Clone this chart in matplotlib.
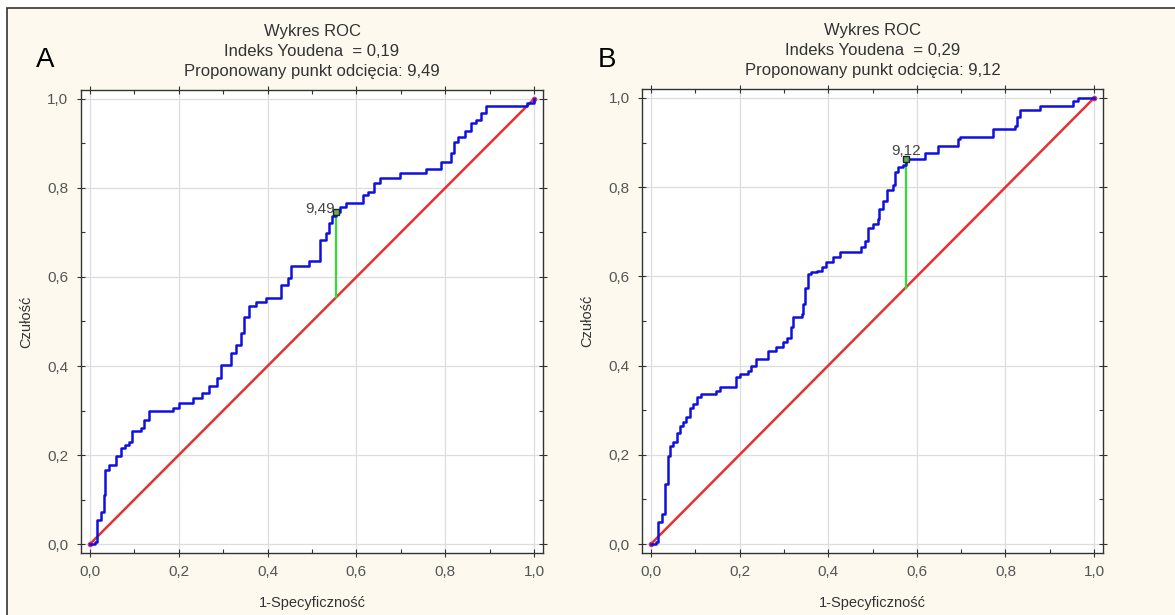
import matplotlib.pyplot as plt
from matplotlib.ticker import MultipleLocator, FuncFormatter
from matplotlib.patches import Rectangle

plt.rcParams['font.family'] = ['Liberation Sans', 'DejaVu Sans']

# ROC curve A: (1-specificity, sensitivity) where each new level starts
fpr_a = [0, 0.012, 0.015, 0.024, 0.032, 0.035, 0.043, 0.058, 0.069, 0.08, 0.088, 0.095,
         0.114, 0.122, 0.133, 0.186, 0.2, 0.231, 0.253, 0.268, 0.287, 0.295, 0.317,
         0.329, 0.34, 0.347, 0.359, 0.374, 0.396, 0.43, 0.445, 0.453, 0.494, 0.517,
         0.532, 0.539, 0.546, 0.554, 0.562, 0.577, 0.614, 0.625, 0.64, 0.654, 0.697,
         0.757, 0.791, 0.813, 0.82, 0.829, 0.844, 0.859, 0.87, 0.881, 0.892, 0.985, 1.0]
tpr_a = [0, 0.005, 0.055, 0.073, 0.11, 0.167, 0.178, 0.197, 0.216, 0.223, 0.23, 0.253,
         0.26, 0.279, 0.3, 0.305, 0.317, 0.328, 0.339, 0.356, 0.374, 0.403, 0.429,
         0.448, 0.474, 0.511, 0.534, 0.543, 0.552, 0.582, 0.598, 0.624, 0.636, 0.683,
         0.698, 0.721, 0.736, 0.747, 0.757, 0.766, 0.784, 0.792, 0.81, 0.822, 0.833,
         0.842, 0.859, 0.878, 0.904, 0.915, 0.927, 0.945, 0.953, 0.968, 0.983, 0.99, 1.0]
cut_a = (0.554, 0.747)
thr_a = '9,49'

# ROC curve B
fpr_b = [0, 0.012, 0.017, 0.024, 0.032, 0.039, 0.043, 0.05, 0.058, 0.065, 0.073, 0.08,
         0.088, 0.095, 0.103, 0.114, 0.148, 0.156, 0.193, 0.2, 0.22, 0.227, 0.238,
         0.265, 0.283, 0.298, 0.306, 0.317, 0.321, 0.34, 0.344, 0.348, 0.355, 0.362,
         0.374, 0.385, 0.396, 0.411, 0.426, 0.475, 0.483, 0.49, 0.5, 0.513, 0.515,
         0.524, 0.532, 0.547, 0.55, 0.558, 0.569, 0.575, 0.618, 0.648, 0.693, 0.697,
         0.772, 0.821, 0.825, 0.832, 0.877, 0.953, 0.964, 1.0]
tpr_b = [0, 0.005, 0.049, 0.067, 0.135, 0.198, 0.22, 0.228, 0.25, 0.265, 0.273, 0.284,
         0.306, 0.314, 0.329, 0.336, 0.344, 0.351, 0.374, 0.381, 0.389, 0.4, 0.415,
         0.433, 0.441, 0.452, 0.463, 0.486, 0.508, 0.516, 0.538, 0.575, 0.605, 0.609,
         0.613, 0.62, 0.632, 0.643, 0.654, 0.665, 0.68, 0.708, 0.717, 0.729, 0.751,
         0.77, 0.794, 0.804, 0.834, 0.845, 0.849, 0.862, 0.876, 0.892, 0.907, 0.913,
         0.93, 0.938, 0.957, 0.972, 0.983, 0.993, 1.0, 1.0]
cut_b = (0.575, 0.862)
thr_b = '9,12'

ticks = [0, 0.2, 0.4, 0.6, 0.8, 1.0]
tick_color = '#555555'
comma = FuncFormatter(lambda v, p: f'{v:.1f}'.replace('.', ','))

fig = plt.figure(figsize=(11.75, 6.15), dpi=100)
fig.patch.set_facecolor('white')
# cream panel with a dark frame on the top and left
fig.patches.append(Rectangle((7 / 1175, -0.1), 1.2, (615 - 8) / 615 + 0.1,
                             transform=fig.transFigure, facecolor='#fdf9ee',
                             edgecolor='#333333', linewidth=1.2, zorder=-10))


def draw_panel(rect, fpr, tpr, cut, thr, letter, label_offset):
    ax = fig.add_axes(rect)
    ax.set_facecolor('white')
    ax.set_xlim(-0.02, 1.02)
    ax.set_ylim(-0.02, 1.02)
    ax.set_xticks(ticks)
    ax.set_yticks(ticks)
    ax.xaxis.set_minor_locator(MultipleLocator(0.1))
    ax.yaxis.set_minor_locator(MultipleLocator(0.1))
    ax.xaxis.set_major_formatter(comma)
    ax.yaxis.set_major_formatter(comma)
    ax.tick_params(which='major', direction='inout', length=6, width=0.8,
                   top=True, right=True, colors='#333333', labelcolor=tick_color,
                   labelsize=11, pad=6)
    ax.tick_params(which='minor', direction='in', length=3, width=0.8,
                   top=True, right=True, colors='#333333')
    ax.grid(True, which='major', color='#dddddd', linewidth=0.9)
    ax.set_axisbelow(True)
    for s in ax.spines.values():
        s.set_color('#333333')
        s.set_linewidth(1.0)

    ax.plot([0, 1], [0, 1], color='#e8302f', linewidth=1.8, zorder=3)
    ax.plot([0, 1], [0, 1], linestyle='none', marker='o', markersize=3,
            color='#d0306a', zorder=4)
    ax.step(fpr, tpr, where='post', color='#1010dd', linewidth=1.8, zorder=5)
    ax.plot([cut[0], cut[0]], [cut[0], cut[1]], color='#33dd33', linewidth=1.6, zorder=4)
    ax.plot(cut[0], cut[1], marker='s', markersize=5, mfc='#66aa66',
            mec='#1a2a1a', mew=1.0, zorder=6)
    ax.annotate(thr, cut, xytext=label_offset, textcoords='offset points',
                ha='right', va='bottom', fontsize=11, color='#444444', zorder=7)

    ax.set_xlabel('1-Specyficzność', fontsize=10.5, color='#333333', labelpad=12)
    ax.set_ylabel('Czułość', fontsize=10.5, color='#333333', labelpad=10)

    youden = cut[1] - cut[0]
    title = ('Wykres ROC\n'
             f'Indeks Youdena  = {youden:.2f}'.replace('.', ',') + '\n'
             f'Proponowany punkt odcięcia: {thr}')
    ax.set_title(title, fontsize=12, color='#333333', linespacing=1.42, pad=10)
    fig.text(rect[0] - 0.038, 0.902, letter, fontsize=20, color='black',
             ha='left', va='center')
    return ax


draw_panel([81 / 1175, 62 / 615, 462 / 1175, 463 / 615],
           fpr_a, tpr_a, cut_a, thr_a, 'A', (-1, -3))
draw_panel([642 / 1175, 62 / 615, 461 / 1175, 464 / 615],
           fpr_b, tpr_b, cut_b, thr_b, 'B', (11, 1))

fig.savefig('out.png', dpi=100, facecolor=fig.get_facecolor())
